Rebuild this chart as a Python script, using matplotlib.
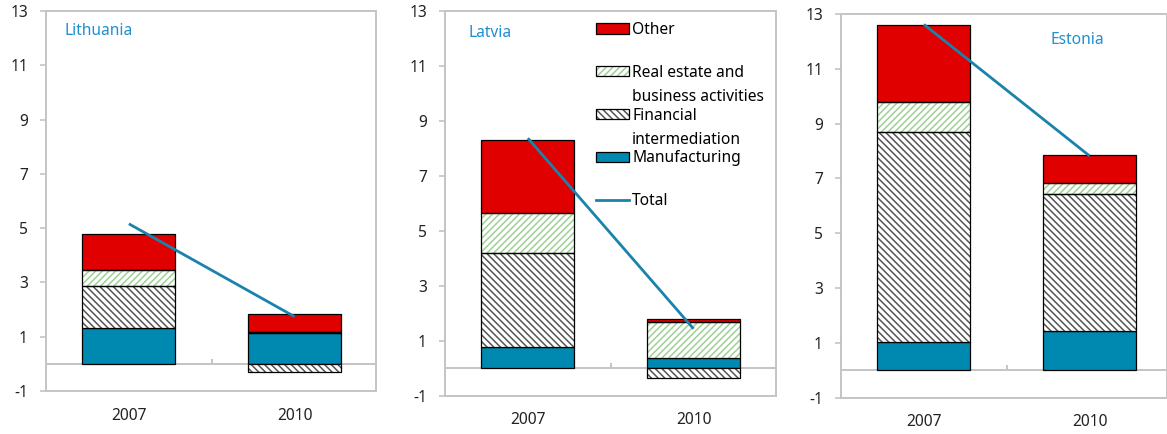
import numpy as np
import matplotlib
matplotlib.use("Agg")
import matplotlib.pyplot as plt
from matplotlib.patches import Patch
from matplotlib.lines import Line2D

plt.rcParams['font.family'] = ['Noto Sans', 'DejaVu Sans']
plt.rcParams['hatch.linewidth'] = 1.1
plt.rcParams['axes.unicode_minus'] = False

years = ['2007', '2010']
countries = ['Lithuania', 'Latvia', 'Estonia']

# contributions by sector, per country (2007, 2010)
manufacturing = {'Lithuania': [1.31, 1.13], 'Latvia': [0.76, 0.37], 'Estonia': [1.04, 1.43]}
financial = {'Lithuania': [1.56, -0.31], 'Latvia': [3.42, -0.37], 'Estonia': [7.66, 4.99]}
real_estate = {'Lithuania': [0.57, 0.05], 'Latvia': [1.46, 1.30], 'Estonia': [1.08, 0.42]}
other = {'Lithuania': [1.34, 0.65], 'Latvia': [2.67, 0.12], 'Estonia': [2.81, 1.00]}
total = {'Lithuania': [5.16, 1.74], 'Latvia': [8.37, 1.43], 'Estonia': [12.62, 7.82]}

RED = '#e00000'
TEAL = '#0089b0'
GREEN = '#9fd095'
HATCH_DARK = '#555555'
LINE = '#1a83ab'
GRID = '#c4c4c4'
TITLE = '#1f8fd0'
FS = 11.2

W, H = 1167, 434
fig = plt.figure(figsize=(W / 100, H / 100), dpi=100)

# axes boxes in pixels: left, top, right, bottom
boxes = {
    'Lithuania': (46, 11, 376, 391),
    'Latvia': (445, 11, 776, 395.5),
    'Estonia': (841, 14, 1167, 397.5),
}
title_pos = {'Lithuania': (65, 31), 'Latvia': (469, 33), 'Estonia': (1050, 40)}

series = [
    ('Manufacturing', manufacturing, TEAL, None),
    ('Financial', financial, 'white', ('\\\\\\\\\\', HATCH_DARK)),
    ('Real estate', real_estate, 'white', ('/////', GREEN)),
    ('Other', other, RED, None),
]

for c in countries:
    l, t, r, b = boxes[c]
    ax = fig.add_axes([l / W, 1 - b / H, (r - l) / W, (b - t) / H])
    x = np.arange(len(years))
    pos = np.zeros(len(years))
    neg = np.zeros(len(years))
    for name, data, color, hatch in series:
        vals = np.array(data[c])
        bottoms = np.where(vals >= 0, pos, neg)
        if hatch is None:
            ax.bar(x, vals, 0.56, bottom=bottoms, color=color, edgecolor='black',
                   linewidth=0.9, zorder=2)
        else:
            ax.bar(x, vals, 0.56, bottom=bottoms, color=color, edgecolor=hatch[1],
                   hatch=hatch[0], linewidth=0, zorder=2)
            ax.bar(x, vals, 0.56, bottom=bottoms, fill=False, edgecolor='black',
                   linewidth=0.9, zorder=3)
        pos = pos + np.where(vals >= 0, vals, 0)
        neg = neg + np.where(vals < 0, vals, 0)
    ax.plot(x, total[c], color=LINE, lw=2.0, zorder=4, solid_capstyle='butt')

    ax.axhline(0, color=GRID, lw=1.4, zorder=1)
    ax.vlines(0.5, 0, 0.18, color=GRID, lw=1.4, zorder=1)
    right = -0.5 + (r - l) / 165.7
    ax.set_xlim(-0.5, right)
    ax.set_ylim(-1, 13)
    ax.set_yticks(np.arange(-1, 14, 2))
    ax.set_xticks(x)
    ax.set_xticklabels(years)
    ax.tick_params(axis='x', length=0, pad=12, labelsize=FS, colors='#222222')
    ax.tick_params(axis='y', length=4, width=1.2, color=GRID, pad=9,
                   labelsize=FS, labelcolor='#222222')
    for s in ax.spines.values():
        s.set_color(GRID)
        s.set_linewidth(1.4)
    fig.text(title_pos[c][0] / W, 1 - title_pos[c][1] / H, c, color=TITLE,
             fontsize=FS, va='center', ha='left')

outline = lambda: Patch(facecolor='none', edgecolor='black', linewidth=0.9)
handles = [
    Patch(facecolor=RED, edgecolor='black', linewidth=0.9),
    (Patch(facecolor='white', edgecolor=GREEN, hatch='/////', linewidth=0), outline()),
    (Patch(facecolor='white', edgecolor=HATCH_DARK, hatch='\\\\\\\\\\', linewidth=0), outline()),
    Patch(facecolor=TEAL, edgecolor='black', linewidth=0.9),
    Line2D([0], [0], color=LINE, lw=2.0),
]
labels = ['Other', 'Real estate and', 'Financial', 'Manufacturing', 'Total']
leg = fig.legend(handles, labels, loc='upper left',
                 bbox_to_anchor=(596 / W, 1 - 22 / H), frameon=False,
                 fontsize=FS, borderpad=0, borderaxespad=0,
                 handlelength=2.12, handleheight=0.65, handletextpad=0.2,
                 labelspacing=1.72)

# second lines of the two-line legend labels
fig.canvas.draw()
inv = fig.transFigure.inverted()
texts = leg.get_texts()
for idx, extra in [(1, 'business activities'), (2, 'intermediation')]:
    bb = texts[idx].get_window_extent()
    x0, y0 = inv.transform((bb.x0, bb.y0 - 24))
    fig.text(x0, y0, extra, fontsize=FS, ha='left', va='bottom')

fig.savefig('out.png', dpi=100)
